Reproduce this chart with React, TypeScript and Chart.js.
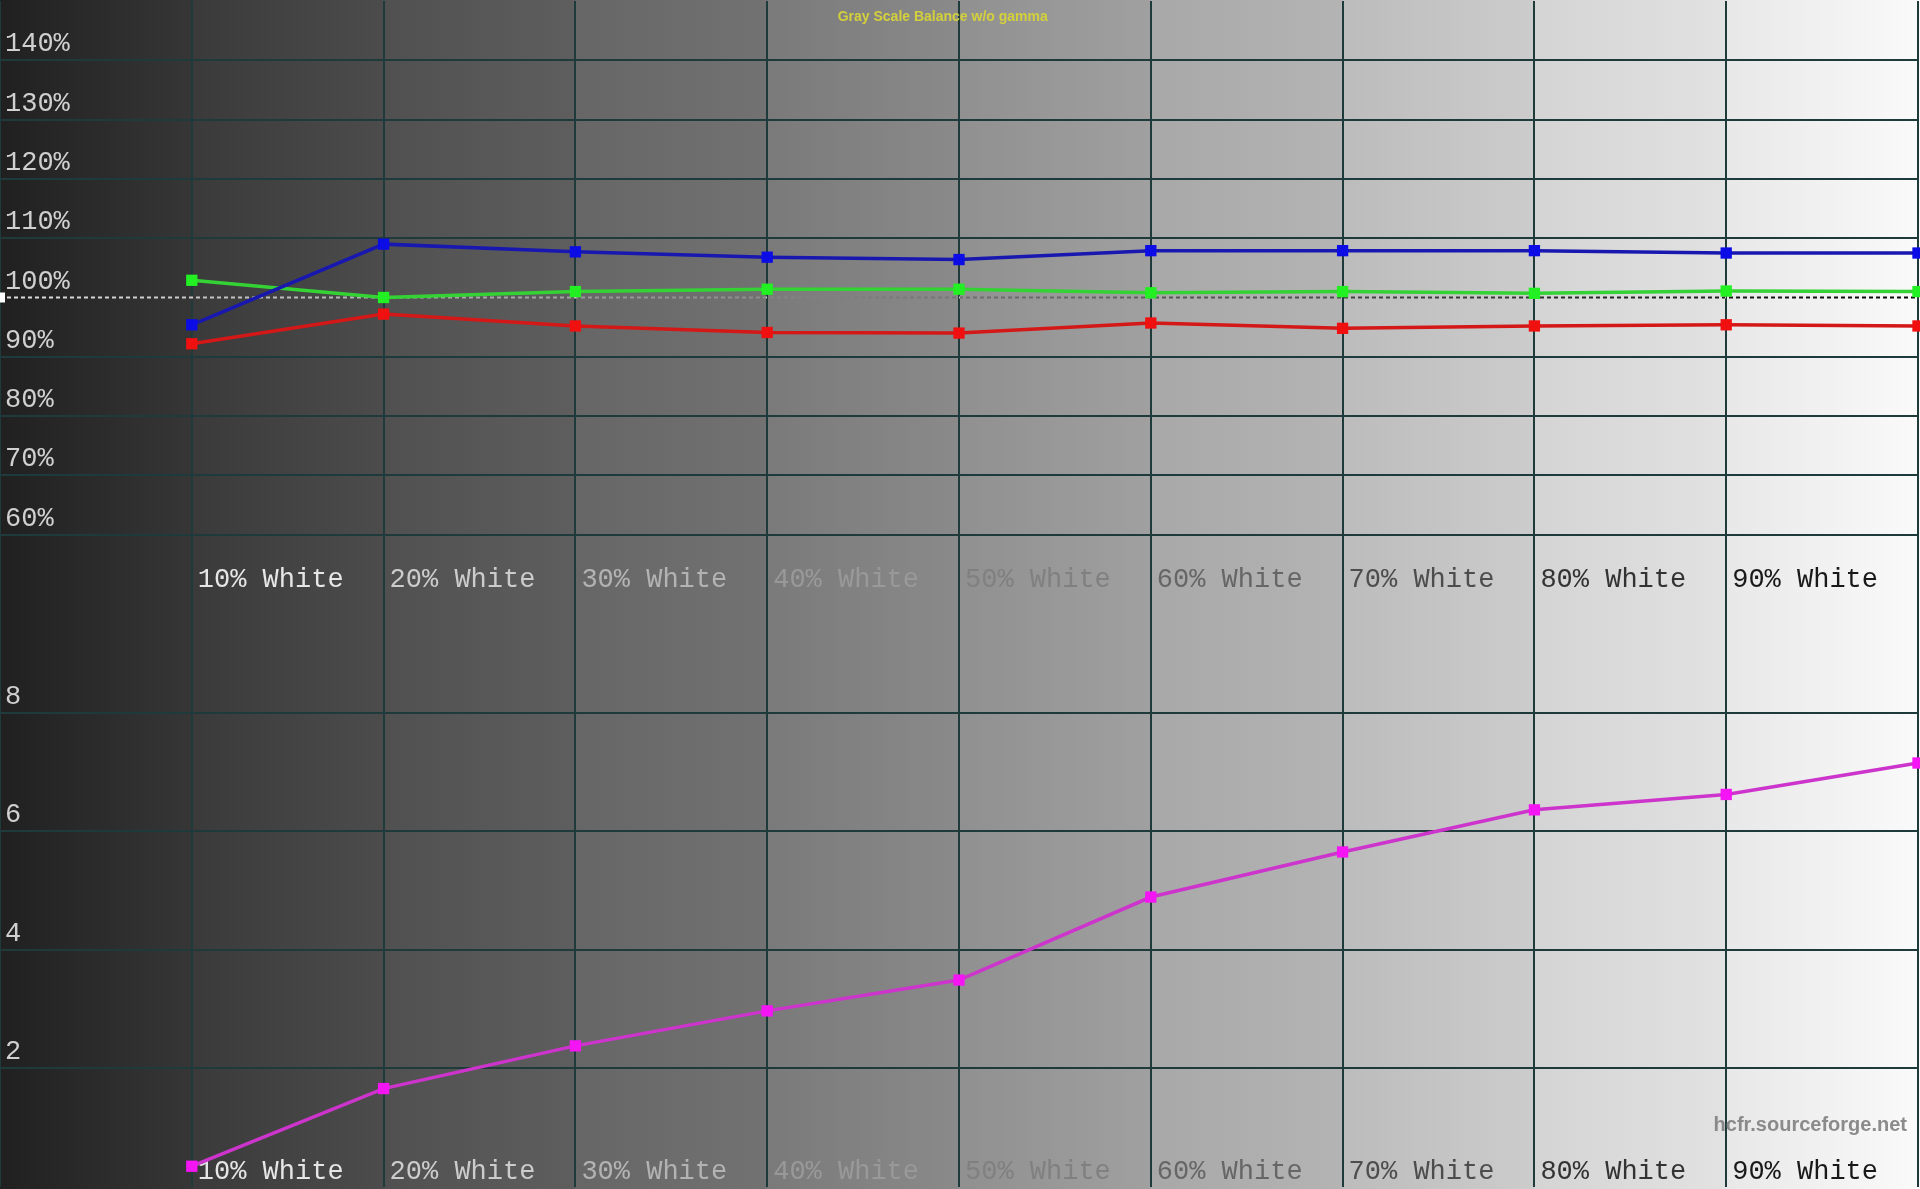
import { useEffect, useRef } from "react";
import { Chart, registerables } from "chart.js";

Chart.register(...registerables);

// stimulus levels (x) and their captions
const levels = [10, 20, 30, 40, 50, 60, 70, 80, 90, 100];
const levelLabels = [
  "10% White",
  "20% White",
  "30% White",
  "40% White",
  "50% White",
  "60% White",
  "70% White",
  "80% White",
  "90% White",
];

// RGB balance in %
const redBalance = [92.2, 97.2, 95.2, 94.1, 94.0, 95.7, 94.8, 95.2, 95.4, 95.2];
const greenBalance = [102.9, 100.0, 101.0, 101.4, 101.4, 100.8, 101.0, 100.7, 101.1, 101.0];
const blueBalance = [95.4, 109.0, 107.7, 106.8, 106.4, 107.9, 107.9, 107.9, 107.5, 107.5];

// delta E
const deltaE = [0.35, 1.66, 2.38, 2.97, 3.49, 4.89, 5.65, 6.36, 6.62, 7.15];

const balanceTicks = [140, 130, 120, 110, 100, 90, 80, 70, 60];
const deltaTicks = [8, 6, 4, 2];

const TITLE = "Gray Scale Balance w/o gamma";
const WATERMARK = "hcfr.sourceforge.net";

// background shade of each 10% column (start, end)
const columnShades = [
  [0x20, 0x36],
  [0x3a, 0x4c],
  [0x50, 0x5e],
  [0x66, 0x72],
  [0x7a, 0x8a],
  [0x90, 0xa0],
  [0xa8, 0xb4],
  [0xbc, 0xcc],
  [0xd4, 0xe2],
  [0xe8, 0xfa],
];

const gray = (v: number) => `rgb(${v},${v},${v})`;
const GRID = "#1f3a3a";
const MONO = "27px 'Liberation Mono', monospace";

const hcfrPlugin = {
  id: "hcfr",
  beforeDraw(chart: any) {
    const { ctx, scales } = chart;
    const x = scales.x;
    ctx.save();
    for (let i = 0; i < columnShades.length; i++) {
      let x0 = x.getPixelForValue(i * 10);
      let x1 = x.getPixelForValue((i + 1) * 10);
      const g = ctx.createLinearGradient(x0, 0, x1, 0);
      g.addColorStop(0, gray(columnShades[i][0]));
      g.addColorStop(1, gray(columnShades[i][1]));
      if (i === 0) x0 = 0;
      if (i === columnShades.length - 1) x1 = chart.width;
      ctx.fillStyle = g;
      ctx.fillRect(x0, 0, x1 - x0 + 1, chart.height);
    }
    ctx.restore();
  },
  beforeDatasetsDraw(chart: any) {
    const { ctx, scales, chartArea } = chart;
    const x = scales.x;
    const yTop = scales.yTop;
    const yBot = scales.yBot;
    ctx.save();

    // 100% reference line
    const ref = yTop.getPixelForValue(100);
    ctx.globalCompositeOperation = "difference";
    ctx.strokeStyle = "#ffffff";
    ctx.lineWidth = 2;
    ctx.setLineDash([4, 3]);
    ctx.beginPath();
    ctx.moveTo(chartArea.left, ref);
    ctx.lineTo(chartArea.right, ref);
    ctx.stroke();
    ctx.setLineDash([]);
    ctx.globalCompositeOperation = "source-over";
    ctx.fillStyle = "#ffffff";
    ctx.fillRect(0, ref - 5, 5, 10);

    // y labels
    ctx.font = MONO;
    ctx.textAlign = "left";
    ctx.textBaseline = "alphabetic";
    ctx.fillStyle = "#d0d0d0";
    for (const v of balanceTicks) {
      ctx.fillText(`${v}%`, 5, yTop.getPixelForValue(v) - 9);
    }
    for (const v of deltaTicks) {
      ctx.fillText(`${v}`, 5, yBot.getPixelForValue(v) - 9);
    }

    // level captions in both panels
    const bases = [yTop.getPixelForValue(yTop.min) - 7, yBot.getPixelForValue(yBot.min) - 8];
    levelLabels.forEach((label, i) => {
      const px = x.getPixelForValue(levels[i]) + 6;
      ctx.fillStyle = gray(Math.round(255 * (1 - levels[i] / 100)));
      for (const b of bases) ctx.fillText(label, px, b);
    });

    // title
    ctx.font = "bold 14px 'Liberation Sans', Arial, sans-serif";
    ctx.textAlign = "center";
    ctx.fillStyle = "#d4d03c";
    ctx.fillText(TITLE, chart.width * 0.491, 21);

    // watermark
    ctx.font = "bold 20px 'Liberation Sans', Arial, sans-serif";
    ctx.textAlign = "right";
    ctx.fillStyle = "rgba(128,128,128,0.9)";
    ctx.fillText(WATERMARK, chart.width - 13, 1131);

    ctx.restore();
  },
};

export default function App() {
  const canvasRef = useRef<HTMLCanvasElement>(null);

  useEffect(() => {
    document.body.style.margin = "0";
    if (!canvasRef.current) return;
    const ctx = canvasRef.current.getContext("2d") as CanvasRenderingContext2D;

    const series = (values: number[]) =>
      values.map((v, i) => ({ x: levels[i], y: v }));

    const line = (label: string, values: number[], axis: string, lineColor: string, pointColor: string) => ({
      label,
      data: series(values),
      yAxisID: axis,
      borderColor: lineColor,
      borderWidth: 3.5,
      pointStyle: "rect" as const,
      pointRadius: 8,
      pointBorderWidth: 0,
      pointBackgroundColor: pointColor,
      tension: 0,
      clip: false as const,
    });

    const hiddenTicks = { display: false };

    const chart = new Chart(ctx, {
      type: "line",
      data: {
        datasets: [
          line("Blue", blueBalance, "yTop", "#1818b0", "#0c0ce6"),
          line("Green", greenBalance, "yTop", "#34d234", "#22f022"),
          line("Red", redBalance, "yTop", "#d41818", "#f01010"),
          line("Delta E", deltaE, "yBot", "#cc34cc", "#f414f4"),
        ],
      },
      options: {
        animation: false,
        responsive: true,
        maintainAspectRatio: false,
        devicePixelRatio: 1,
        layout: { autoPadding: false, padding: { top: 1, right: 2, bottom: 2, left: 0 } },
        plugins: {
          legend: { display: false },
          tooltip: { enabled: false },
        },
        scales: {
          x: {
            type: "linear",
            min: 0,
            max: 100,
            ticks: { ...hiddenTicks, stepSize: 10 },
            border: { display: false },
            grid: { color: GRID, lineWidth: 2, drawTicks: false },
          },
          yBot: {
            type: "linear",
            position: "left",
            stack: "panels",
            stackWeight: 1,
            weight: 1,
            min: 0,
            max: 10,
            ticks: { ...hiddenTicks, stepSize: 2 },
            border: { display: false },
            grid: {
              drawTicks: false,
              lineWidth: 2,
              color: (c: any) =>
                deltaTicks.includes(c.tick?.value) ? GRID : "rgba(0,0,0,0)",
            },
          },
          yTop: {
            type: "linear",
            position: "left",
            stack: "panels",
            stackWeight: 1,
            weight: 2,
            min: 50,
            max: 150,
            ticks: { ...hiddenTicks, stepSize: 10 },
            border: { display: false },
            grid: {
              drawTicks: false,
              lineWidth: 2,
              color: (c: any) =>
                balanceTicks.includes(c.tick?.value) && c.tick?.value !== 100
                  ? GRID
                  : "rgba(0,0,0,0)",
            },
          },
        },
      },
      plugins: [hcfrPlugin],
    });

    return () => {
      chart.destroy();
    };
  }, []);

  return (
    <div style={{ position: "relative", width: 1920, height: 1189 }}>
      <canvas ref={canvasRef} />
    </div>
  );
}
